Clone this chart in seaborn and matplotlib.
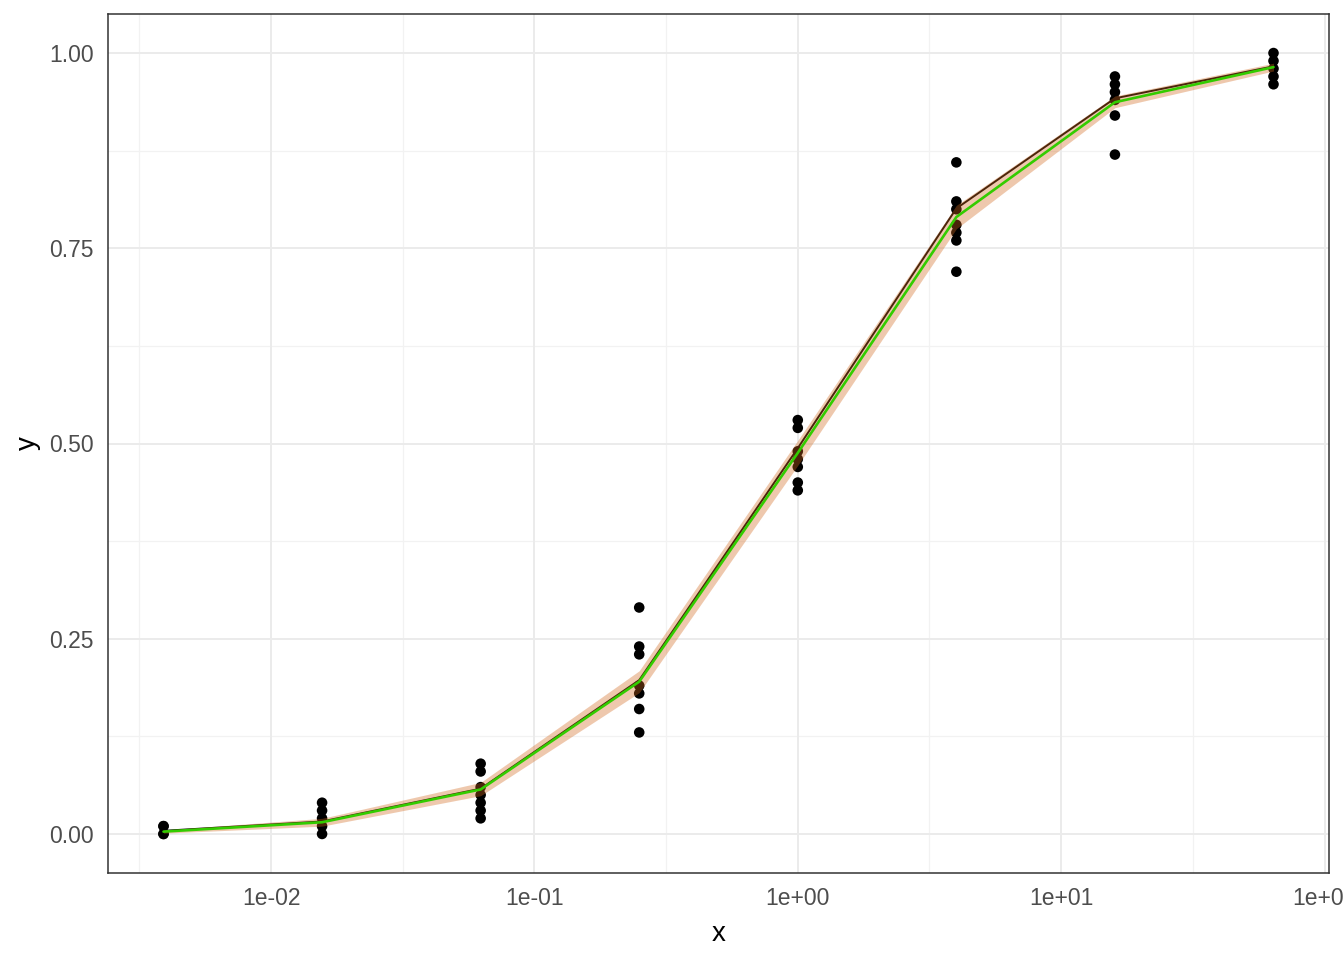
import numpy as np
import pandas as pd
import matplotlib
matplotlib.use("Agg")
import matplotlib.pyplot as plt
import seaborn as sns
from matplotlib.ticker import FixedLocator, NullFormatter

# ---- data ----
x_levels = [1/256, 1/64, 1/16, 1/4, 1, 4, 16, 64]
obs_1_256 = [0.00, 0.01, 0.00, 0.01]
obs_1_64 = [0.04, 0.03, 0.02, 0.01, 0.00]
obs_1_16 = [0.09, 0.08, 0.06, 0.05, 0.04, 0.03, 0.02]
obs_1_4 = [0.29, 0.24, 0.23, 0.19, 0.18, 0.16, 0.13]
obs_1 = [0.53, 0.52, 0.49, 0.48, 0.47, 0.45, 0.44]
obs_4 = [0.86, 0.81, 0.80, 0.78, 0.77, 0.76, 0.72]
obs_16 = [0.97, 0.96, 0.95, 0.94, 0.92, 0.87]
obs_64 = [1.00, 0.99, 0.98, 0.97, 0.96]
observations = [obs_1_256, obs_1_64, obs_1_16, obs_1_4, obs_1, obs_4, obs_16, obs_64]

line_black = [0.004, 0.016, 0.058, 0.197, 0.494, 0.801, 0.942, 0.983]
line_green = [0.003, 0.015, 0.057, 0.195, 0.488, 0.790, 0.937, 0.982]
ribbon_lo = [0.0010, 0.010, 0.049, 0.181, 0.472, 0.775, 0.930, 0.977]
ribbon_hi = [0.0050, 0.020, 0.066, 0.209, 0.504, 0.805, 0.945, 0.987]

x_ticks = [1e-2, 1e-1, 1e0, 1e1, 1e2]
x_tick_labels = ["1e-02", "1e-01", "1e+00", "1e+01", "1e+02"]
y_ticks = [0.00, 0.25, 0.50, 0.75, 1.00]
y_tick_labels = ["0.00", "0.25", "0.50", "0.75", "1.00"]

pts = pd.DataFrame(
    [(xv, yv) for xv, ys in zip(x_levels, observations) for yv in ys],
    columns=["x", "y"],
)
fit = pd.DataFrame({"x": x_levels, "black": line_black, "green": line_green,
                    "lo": ribbon_lo, "hi": ribbon_hi})

# ---- style ----
sns.set_theme(style="white")
plt.rcParams["font.family"] = ["Liberation Sans", "DejaVu Sans"]

fig = plt.figure(figsize=(13.44, 9.6), dpi=100)
ax = fig.add_axes([108/1344, 1 - 873/960, (1329 - 108)/1344, (873 - 14)/960])
ax.set_xscale("log")

# grid
lx = np.log10(x_levels)
span = lx.max() - lx.min()
xlim = (10 ** (lx.min() - 0.05 * span), 10 ** (lx.max() + 0.05 * span))
minor_x = [10 ** (k + 0.5) for k in range(-3, 3)]
minor_y = [0.125, 0.375, 0.625, 0.875]
ax.set_axisbelow(True)
for v in minor_x:
    ax.axvline(v, color="#F2F2F2", lw=0.9, zorder=0)
for v in minor_y:
    ax.axhline(v, color="#F2F2F2", lw=0.9, zorder=0)
for v in x_ticks:
    ax.axvline(v, color="#EBEBEB", lw=1.4, zorder=0)
for v in y_ticks:
    ax.axhline(v, color="#EBEBEB", lw=1.4, zorder=0)

sns.scatterplot(data=pts, x="x", y="y", ax=ax, color="black", s=58,
                edgecolor="none", linewidth=0, zorder=2, legend=False)
sns.lineplot(data=fit, x="x", y="black", ax=ax, color="black", lw=1.4,
             zorder=3, legend=False)
ax.fill_between(fit["x"], fit["lo"], fit["hi"], color="chocolate",
                alpha=0.36, linewidth=0, zorder=4)
sns.lineplot(data=fit, x="x", y="green", ax=ax, color="#33CC00", lw=1.9,
             zorder=5, legend=False)

ax.set_xlim(*xlim)
ax.set_ylim(-0.05, 1.05)
ax.xaxis.set_major_locator(FixedLocator(x_ticks))
ax.set_xticklabels(x_tick_labels)
ax.xaxis.set_minor_locator(FixedLocator([]))
ax.xaxis.set_minor_formatter(NullFormatter())
ax.set_yticks(y_ticks)
ax.set_yticklabels(y_tick_labels)

ax.tick_params(axis="both", which="major", length=6, width=1.3,
               color="#333333", labelsize=16.5, labelcolor="#4D4D4D",
               direction="out", pad=4)
for s in ax.spines.values():
    s.set_color("#333333")
    s.set_linewidth(1.1)
    s.set_visible(True)

ax.set_xlabel("x", fontsize=20, color="black", labelpad=8)
ax.set_ylabel("y", fontsize=20, color="black", labelpad=6)

fig.savefig("out.png", dpi=100, facecolor="white")
